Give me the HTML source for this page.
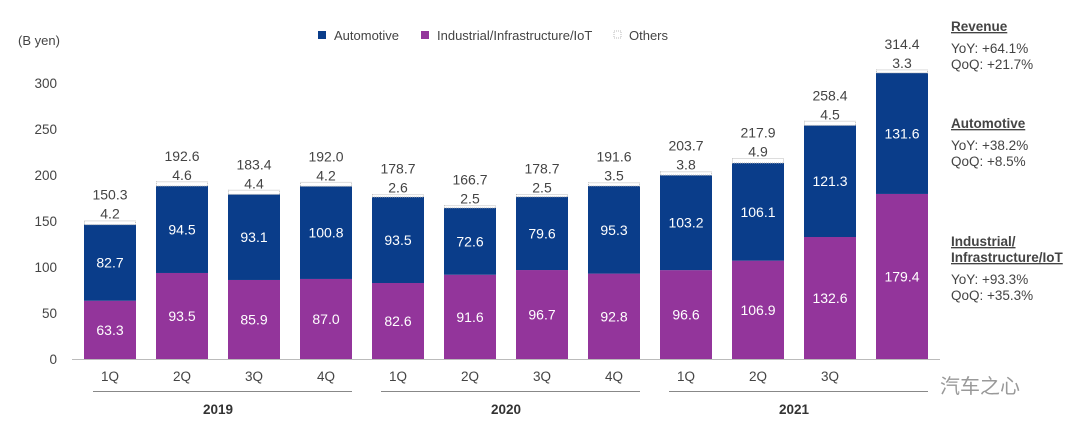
<!DOCTYPE html>
<html><head><meta charset="utf-8"><style>
body{margin:0;background:#fff;font-family:"Liberation Sans","Noto Sans CJK SC",sans-serif;}
svg text{font-family:"Liberation Sans","Noto Sans CJK SC",sans-serif;}
</style></head><body>
<svg id="chart" width="1080" height="435" xmlns="http://www.w3.org/2000/svg">
<text x="18" y="45" font-size="13" fill="#444">(B yen)</text>
<g>
<rect x="318" y="31" width="8" height="8" fill="#0a3d8a"/>
<text x="334" y="40" font-size="13" fill="#444">Automotive</text>
<rect x="421" y="31" width="8" height="8" fill="#93359b"/>
<text x="437" y="40" font-size="13" fill="#444">Industrial/Infrastructure/IoT</text>
<rect x="614" y="31" width="7" height="7" fill="#fff" stroke="#bbb" stroke-dasharray="1,1"/>
<text x="629" y="40" font-size="13" fill="#444">Others</text>
</g>
<g id="axis"></g>
<g id="bars"></g>
<g font-size="13.5" fill="#444">
<text x="951" y="31" font-weight="bold" text-decoration="underline">Revenue</text>
<text x="951" y="53">YoY: +64.1%</text>
<text x="951" y="69">QoQ: +21.7%</text>
<text x="951" y="128" font-weight="bold" text-decoration="underline">Automotive</text>
<text x="951" y="150">YoY: +38.2%</text>
<text x="951" y="166">QoQ: +8.5%</text>
<text x="951" y="246" font-weight="bold" text-decoration="underline">Industrial/</text>
<text x="951" y="262" font-weight="bold" text-decoration="underline">Infrastructure/IoT</text>
<text x="951" y="284">YoY: +93.3%</text>
<text x="951" y="300">QoQ: +35.3%</text>
</g>
<text x="940" y="393" font-size="20" fill="#999">汽车之心</text>
</svg>
<script>
const quarters=["1Q","2Q","3Q","4Q","1Q","2Q","3Q","4Q","1Q","2Q","3Q"," "];
const years=["2019","2020","2021"];
const industrial=[63.3,93.5,85.9,87.0,82.6,91.6,96.7,92.8,96.6,106.9,132.6,179.4];
const automotive=[82.7,94.5,93.1,100.8,93.5,72.6,79.6,95.3,103.2,106.1,121.3,131.6];
const others=[4.2,4.6,4.4,4.2,2.6,2.5,2.5,3.5,3.8,4.9,4.5,3.3];
const totals=[150.3,192.6,183.4,192.0,178.7,166.7,178.7,191.6,203.7,217.9,258.4,314.4];
const yTicks=[0,50,100,150,200,250,300];
const NS="http://www.w3.org/2000/svg";
const y=v=>359-v*0.92;
const xc=i=>110+i*72;
const bw=52;
const FS=14;
function mk(tag,attrs,parent,txt){const e=document.createElementNS(NS,tag);for(const k in attrs)e.setAttribute(k,attrs[k]);if(txt!==undefined)e.textContent=txt;parent.appendChild(e);return e;}
const ax=document.getElementById('axis'),bars=document.getElementById('bars');
yTicks.forEach(t=>{const e=mk('text',{x:57,y:y(t)+5,'font-size':13.5,fill:'#444','text-anchor':'end'},ax,t);

});
const base=mk('line',{x1:72,x2:940,y1:359.5,y2:359.5,stroke:'#bbb'},ax);


quarters.forEach((q,i)=>{const e=mk('text',{x:xc(i),y:381,'font-size':13.5,fill:'#444','text-anchor':'middle'},ax,q);

});
years.forEach((yr,g)=>{const x0=xc(g*4)-17,x1=xc(g*4+3)+26;
const l=mk('line',{x1:x0,x2:x1,y1:391.5,y2:391.5,stroke:'#888'},ax);


const t=mk('text',{x:(xc(g*4)+xc(g*4+3))/2,y:414,'font-size':13.5,'font-weight':'bold',fill:'#333','text-anchor':'middle'},ax,yr);

});
industrial.forEach((v,i)=>{const x=xc(i)-bw/2;
const a=automotive[i],o=others[i];
const r1=mk('rect',{x:x,y:y(v),width:bw,height:y(0)-y(v),fill:'#93359b'},bars);


const r2=mk('rect',{x:x,y:y(v+a),width:bw,height:y(v)-y(v+a),fill:'#0a3d8a'},bars);


const r3=mk('rect',{x:x+0.5,y:y(v+a+o),width:bw-1,height:y(v+a)-y(v+a+o),fill:'#fff',stroke:'#bbb','stroke-dasharray':'1,1'},bars);


const t1=mk('text',{x:xc(i),y:(y(v)+y(0))/2+5,'font-size':FS,fill:'#fff','text-anchor':'middle'},bars,v.toFixed(1));


const t2=mk('text',{x:xc(i),y:(y(v)+y(v+a))/2+5,'font-size':FS,fill:'#fff','text-anchor':'middle'},bars,a.toFixed(1));


const top=y(totals[i]);
const t3=mk('text',{x:xc(i),y:top-2,'font-size':FS,fill:'#444','text-anchor':'middle'},bars,o.toFixed(1));


const t4=mk('text',{x:xc(i),y:top-21,'font-size':FS,fill:'#444','text-anchor':'middle'},bars,totals[i].toFixed(1));


});
</script>
</body></html>
